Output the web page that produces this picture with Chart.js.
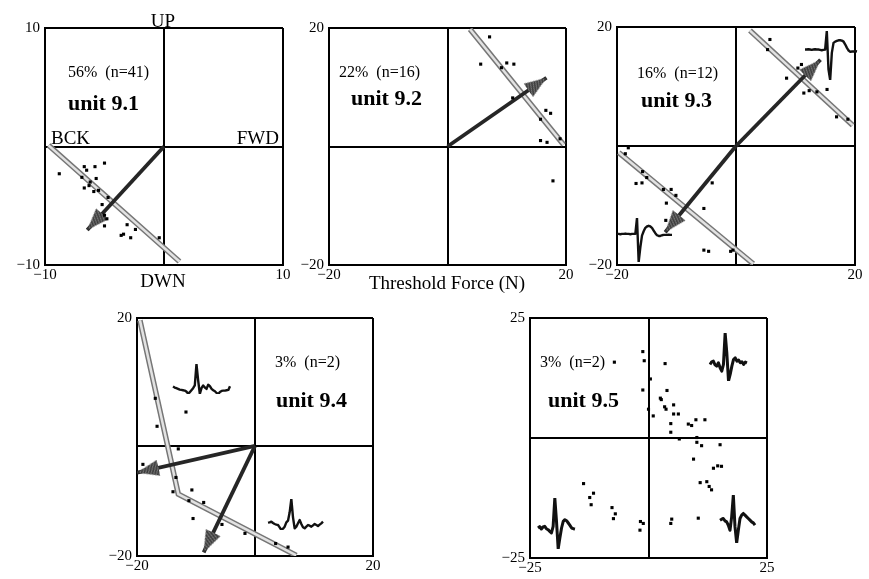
<!DOCTYPE html>
<html>
<head>
<meta charset="utf-8">
<title>Threshold force - units 9.1 to 9.5</title>
<script src="https://cdn.jsdelivr.net/npm/chart.js@4.4.1/dist/chart.umd.min.js"></script>
<style>
  html, body { margin: 0; padding: 0; background: #fff; }
  #fig { position: relative; width: 869px; height: 579px; overflow: hidden;
         font-family: "Liberation Serif", "Times New Roman", serif; color: #000; }
  #fig canvas { position: absolute; }
  .lbl { position: absolute; white-space: pre; line-height: 1; }
  .axis { font-size: 19px; }
  .pct { font-size: 16px; }
  .unit { font-size: 22px; font-weight: bold; }
</style>
</head>
<body>
<div id="fig"></div>
<script>
// ---- values (force in N) ----

// unit 9.1, axes -10..10
var unit91Range = [-10, 10];
var unit91Pts = [[-8.8,-2.3],[-6.7,-1.7],[-6.5,-2.0],[-5.8,-1.7],[-5.0,-1.4],[-6.9,-2.6],[-5.7,-2.7],
  [-6.2,-3.0],[-6.7,-3.5],[-6.3,-3.3],[-5.9,-3.8],[-5.5,-3.7],[-5.2,-4.9],[-4.7,-4.3],[-5.0,-5.8],
  [-4.8,-6.1],[-5.0,-6.7],[-3.6,-7.5],[-3.4,-7.4],[-3.1,-6.6],[-2.8,-7.7],[-2.4,-7.0],[-0.4,-7.7]];
var unit91Fit = [[[-9.7,0.1],[1.3,-9.7]]];
var unit91Arrows = [[-6.45,-7.05]];
var unit91Cross = [0, 0];

// unit 9.2, axes -20..20
var unit92Range = [-20, 20];
var unit92Pts = [[7.1,18.5],[5.6,13.9],[9.1,13.3],[10.0,14.1],[11.2,13.9],[11.0,8.2],[16.6,6.1],
  [17.4,5.6],[15.7,4.6],[15.7,1.0],[16.8,0.7],[19.0,1.3],[17.8,-5.8]];
var unit92Fit = [[[3.8,19.8],[19.6,0.3]]];
var unit92Arrows = [[16.7,11.6]];
var unit92Cross = [0, 0];

// unit 9.3, axes -20..20
var unit93Range = [-20, 20];
var unit93Pts = [[5.7,17.9],[5.3,16.2],[10.4,13.1],[11.0,13.7],[8.5,11.4],[11.4,8.9],[12.3,9.3],
  [13.6,9.1],[15.3,9.5],[16.9,4.9],[18.8,4.5],[-18.1,-0.3],[-18.6,-1.3],[-15.7,-4.3],[-15.0,-5.3],
  [-16.8,-6.3],[-15.8,-6.2],[-12.2,-7.3],[-10.9,-7.3],[-10.1,-8.3],[-11.7,-9.6],[-11.8,-12.5],
  [-5.4,-10.5],[-4.0,-6.2],[-5.4,-17.5],[-4.6,-17.7],[-0.9,-17.7],[-0.5,-17.5]];
var unit93Fit = [[[2.35,19.4],[19.6,3.5]], [[-19.7,-1.1],[2.9,-19.8]]];
var unit93Arrows = [[14.2,14.5],[-11.9,-14.5]];
var unit93Cross = [0, 0];

// unit 9.4, axes -20..20 (horizontal divider sits a little below 0 in the original)
var unit94Range = [-20, 20];
var unit94Pts = [[-16.9,6.5],[-16.6,1.8],[-11.7,4.2],[-13.0,-2.0],[-19.0,-4.6],[-13.4,-6.8],
  [-13.9,-9.2],[-10.7,-8.9],[-11.2,-10.7],[-8.7,-11.0],[-10.5,-13.7],[-5.6,-14.7],[-1.7,-16.2],
  [3.5,-17.9],[5.6,-18.5]];
var unit94Fit = [[[-19.5,19.6],[-13.0,-9.6],[7.0,-19.9]]];
var unit94Arrows = [[-20.0,-6.0],[-8.7,-19.4]];
var unit94Cross = [0, -1.5];

// unit 9.5, axes -25..25
var unit95Range = [-25, 25];
var unit95Pts = [[-7.2,15.8],[-1.2,18.0],[-0.9,16.1],[-1.2,10.0],[0.4,12.3],[3.5,15.5],[3.9,9.9],
  [2.5,8.3],[2.7,8.0],[0.0,6.0],[1.0,4.6],[3.4,6.5],[3.7,6.0],[5.3,6.9],[6.3,5.0],[5.3,5.0],
  [4.7,3.0],[4.7,1.2],[8.4,2.9],[9.1,2.6],[10.0,3.8],[11.9,3.8],[6.5,-0.2],[10.2,0.1],[10.2,-0.9],
  [11.2,-1.6],[15.1,-1.4],[9.5,-4.4],[13.7,-6.3],[14.6,-5.8],[15.4,-5.9],[10.9,-9.3],[12.3,-9.1],
  [12.8,-10.1],[13.3,-10.8],[10.5,-16.7],[4.9,-16.9],[4.7,-17.8],[-13.7,-9.5],[-12.4,-12.4],
  [-11.6,-11.5],[-12.1,-13.9],[-7.7,-14.5],[-7.0,-15.8],[-7.4,-16.8],[-1.7,-17.4],[-1.1,-17.8],
  [-1.8,-19.2]];
var unit95Fit = [];
var unit95Arrows = [];
var unit95Cross = [0, 0];

// spike waveforms shown as insets (arbitrary amplitude, evenly sampled)
var wave93a = [0,0,1,0,-1,0,1,0,0,-1,-2,-1,0,56,-60,-92,-10,20,24,26,28,28,27,24,15,5,-3,-7,-6,-6,-5,-6];
var wave93b = [0,0,-1,0,0,1,0,0,-1,0,0,0,47,-83,-40,-5,8,18,22,24,22,18,10,2,-4,-6,-6,-4,-3,-3,-3,-2,-3,-3];
var wave94a = [7,4,2,0,-2,-3,-4,-5,-8,-14,-10,-4,2,10,73,25,-15,2,10,4,0,12,8,0,-4,-7,-12,-15,-9,-6,-5,-5,-4,-3,8];
var wave94b = [4,5,7,3,0,-2,-3,-10,-18,-14,-8,5,10,35,75,20,-13,-8,2,12,0,-10,-13,-8,-3,-5,-8,-4,0,-3,-6,-2,2,7];
var wave95a = [-5,3,5,-6,-10,0,-15,-25,-5,90,30,-55,-35,-10,10,15,5,8,0,3,-5,2,0];
var wave95b = [0,4,-3,3,5,-2,-5,-10,-15,5,90,20,-63,-30,0,20,25,22,15,8,0,-2,-3];
var wave95c = [0,3,5,-2,-5,-15,-30,10,75,-20,-68,-30,5,15,20,15,10,5,0,-5,-8,-15];

// ---- layout (pixels) ----
var fig = document.getElementById('fig');
var serif = '"Liberation Serif", "Times New Roman", serif';

var panels = [
  { range: unit91Range, pts: unit91Pts, fits: unit91Fit, arrows: unit91Arrows, cross: unit91Cross,
    box: { left: 45, top: 28, w: 238, h: 237 } },
  { range: unit92Range, pts: unit92Pts, fits: unit92Fit, arrows: unit92Arrows, cross: unit92Cross,
    box: { left: 329, top: 28, w: 237, h: 237 } },
  { range: unit93Range, pts: unit93Pts, fits: unit93Fit, arrows: unit93Arrows, cross: unit93Cross,
    box: { left: 617, top: 27, w: 238, h: 238 } },
  { range: unit94Range, pts: unit94Pts, fits: unit94Fit, arrows: unit94Arrows, cross: unit94Cross,
    box: { left: 137, top: 318, w: 236, h: 238 } },
  { range: unit95Range, pts: unit95Pts, fits: unit95Fit, arrows: unit95Arrows, cross: unit95Cross,
    box: { left: 530, top: 318, w: 237, h: 240 } }
];

var insets = [
  { wave: wave93a, left: 805, top: 31, w: 52, h: 49, lw: 2.4 },
  { wave: wave93b, left: 617, top: 218, w: 55, h: 44, lw: 2.4 },
  { wave: wave94a, left: 173, top: 364, w: 57, h: 30, lw: 2.4 },
  { wave: wave94b, left: 268, top: 499, w: 55, h: 31, lw: 2.4 },
  { wave: wave95a, left: 710, top: 333, w: 37, h: 48, lw: 3 },
  { wave: wave95b, left: 538, top: 498, w: 37, h: 51, lw: 3 },
  { wave: wave95c, left: 720, top: 495, w: 35, h: 48, lw: 3 }
];

// [text, class, x, y(center), anchor]
var texts = [
  ['UP', 'axis', 163, 20, 'c'],
  ['DWN', 'axis', 163, 280, 'c'],
  ['BCK', 'axis', 51, 137, 'l'],
  ['FWD', 'axis', 279, 137, 'r'],
  ['56%  (n=41)', 'pct', 68, 72, 'l'],
  ['unit 9.1', 'unit', 68, 103, 'l'],
  ['22%  (n=16)', 'pct', 339, 72, 'l'],
  ['unit 9.2', 'unit', 351, 98, 'l'],
  ['Threshold Force (N)', 'axis', 447, 282, 'c'],
  ['16%  (n=12)', 'pct', 637, 73, 'l'],
  ['unit 9.3', 'unit', 641, 100, 'l'],
  ['3%  (n=2)', 'pct', 275, 362, 'l'],
  ['unit 9.4', 'unit', 276, 400, 'l'],
  ['3%  (n=2)', 'pct', 540, 362, 'l'],
  ['unit 9.5', 'unit', 548, 400, 'l']
];

// ---- helpers ----
function fmt(v) { return v < 0 ? '\u2212' + Math.abs(v) : String(v); }
function xy(p) { return { x: p[0], y: p[1] }; }

// arrow head: long hatched triangle, tip at the canvas centre
function makeHead() {
  var c = document.createElement('canvas');
  c.width = 18; c.height = 46;
  var g = c.getContext('2d');
  g.beginPath();
  g.moveTo(9, 23); g.lineTo(17, 45); g.lineTo(1, 45); g.closePath();
  g.fillStyle = '#3a3a3a';
  g.fill();
  g.save();
  g.clip();
  g.strokeStyle = '#9a9a9a';
  g.lineWidth = 0.8;
  for (var i = -20; i < 50; i += 3) {
    g.beginPath(); g.moveTo(0, i); g.lineTo(18, i + 9); g.stroke();
  }
  g.restore();
  g.strokeStyle = '#111';
  g.lineWidth = 1;
  g.stroke();
  return c;
}
var headImg = makeHead();

function headRotation(ctx) {
  var ch = ctx.chart, d = ctx.dataset.data;
  if (ctx.dataIndex === 0 || !ch.scales.x) return 0;
  var a = d[0], b = d[ctx.dataIndex];
  var dx = ch.scales.x.getPixelForValue(b.x) - ch.scales.x.getPixelForValue(a.x);
  var dy = ch.scales.y.getPixelForValue(b.y) - ch.scales.y.getPixelForValue(a.y);
  return Math.atan2(dx, -dy) * 180 / Math.PI;
}

function axis(lo, hi, cross, horiz) {
  return {
    type: 'linear', min: lo, max: hi,
    afterBuildTicks: function (s) { s.ticks = [lo, cross, hi].map(function (v) { return { value: v }; }); },
    afterFit: function (s) {
      if (horiz) { s.height = 26; s.paddingLeft = 0; s.paddingRight = 0; }
      else { s.width = 45; s.paddingTop = 0; s.paddingBottom = 0; }
    },
    grid: { color: '#000', lineWidth: 2, drawTicks: false },
    border: { display: true, color: '#000', width: 2 },
    ticks: {
      color: '#000', font: { family: serif, size: 15 }, padding: horiz ? 1 : 5,
      maxRotation: 0, autoSkip: false,
      callback: function (v) { return (v === lo || v === hi) ? fmt(v) : ''; }
    }
  };
}

function drawPanel(p) {
  var b = p.box;
  var cv = document.createElement('canvas');
  cv.width = b.w + 61; cv.height = b.h + 38;
  cv.style.left = (b.left - 45) + 'px';
  cv.style.top = (b.top - 12) + 'px';
  fig.appendChild(cv);

  var sets = [];
  sets.push({ data: p.pts.map(xy), pointStyle: 'rect', pointRadius: 2.2,
              backgroundColor: '#000', borderWidth: 0, order: 0 });
  p.fits.forEach(function (seg) {
    sets.push({ data: seg.map(xy), showLine: true, borderColor: '#767676', borderWidth: 5.5,
                pointRadius: 0, order: 3 });
    sets.push({ data: seg.map(xy), showLine: true, borderColor: '#e2e2e2', borderWidth: 2.5,
                pointRadius: 0, order: 2 });
  });
  p.arrows.forEach(function (a) {
    sets.push({ data: [xy(p.cross), xy(a)], showLine: true, borderColor: '#262626', borderWidth: 3.8,
                pointStyle: headImg, pointRadius: [0, 6], pointRotation: headRotation, order: 1 });
  });

  new Chart(cv, {
    type: 'scatter',
    data: { datasets: sets },
    options: {
      responsive: false, animation: false, devicePixelRatio: 1, events: [],
      layout: { padding: { top: 12, right: 16, left: 0, bottom: 0 } },
      plugins: { legend: { display: false }, tooltip: { enabled: false } },
      scales: {
        x: axis(p.range[0], p.range[1], p.cross[0], true),
        y: axis(p.range[0], p.range[1], p.cross[1], false)
      }
    }
  });
}

function drawInset(s) {
  var cv = document.createElement('canvas');
  cv.width = s.w + 4; cv.height = s.h + 4;
  cv.style.left = (s.left - 2) + 'px';
  cv.style.top = (s.top - 2) + 'px';
  fig.appendChild(cv);
  new Chart(cv, {
    type: 'line',
    data: {
      labels: s.wave.map(function (v, i) { return i; }),
      datasets: [{ data: s.wave, borderColor: '#111', borderWidth: s.lw, pointRadius: 0,
                   tension: 0, borderJoinStyle: 'round' }]
    },
    options: {
      responsive: false, animation: false, devicePixelRatio: 1, events: [],
      layout: { padding: 2 },
      plugins: { legend: { display: false }, tooltip: { enabled: false } },
      scales: {
        x: { display: false, offset: false },
        y: { display: false, min: Math.min.apply(null, s.wave), max: Math.max.apply(null, s.wave) }
      }
    }
  });
}

panels.forEach(drawPanel);
insets.forEach(drawInset);

texts.forEach(function (t) {
  var d = document.createElement('div');
  d.className = 'lbl ' + t[1];
  d.textContent = t[0];
  d.style.left = t[2] + 'px';
  d.style.top = t[3] + 'px';
  d.style.transform = t[4] === 'c' ? 'translate(-50%,-50%)' :
                      t[4] === 'r' ? 'translate(-100%,-50%)' : 'translateY(-50%)';
  fig.appendChild(d);
});
</script>
</body>
</html>
